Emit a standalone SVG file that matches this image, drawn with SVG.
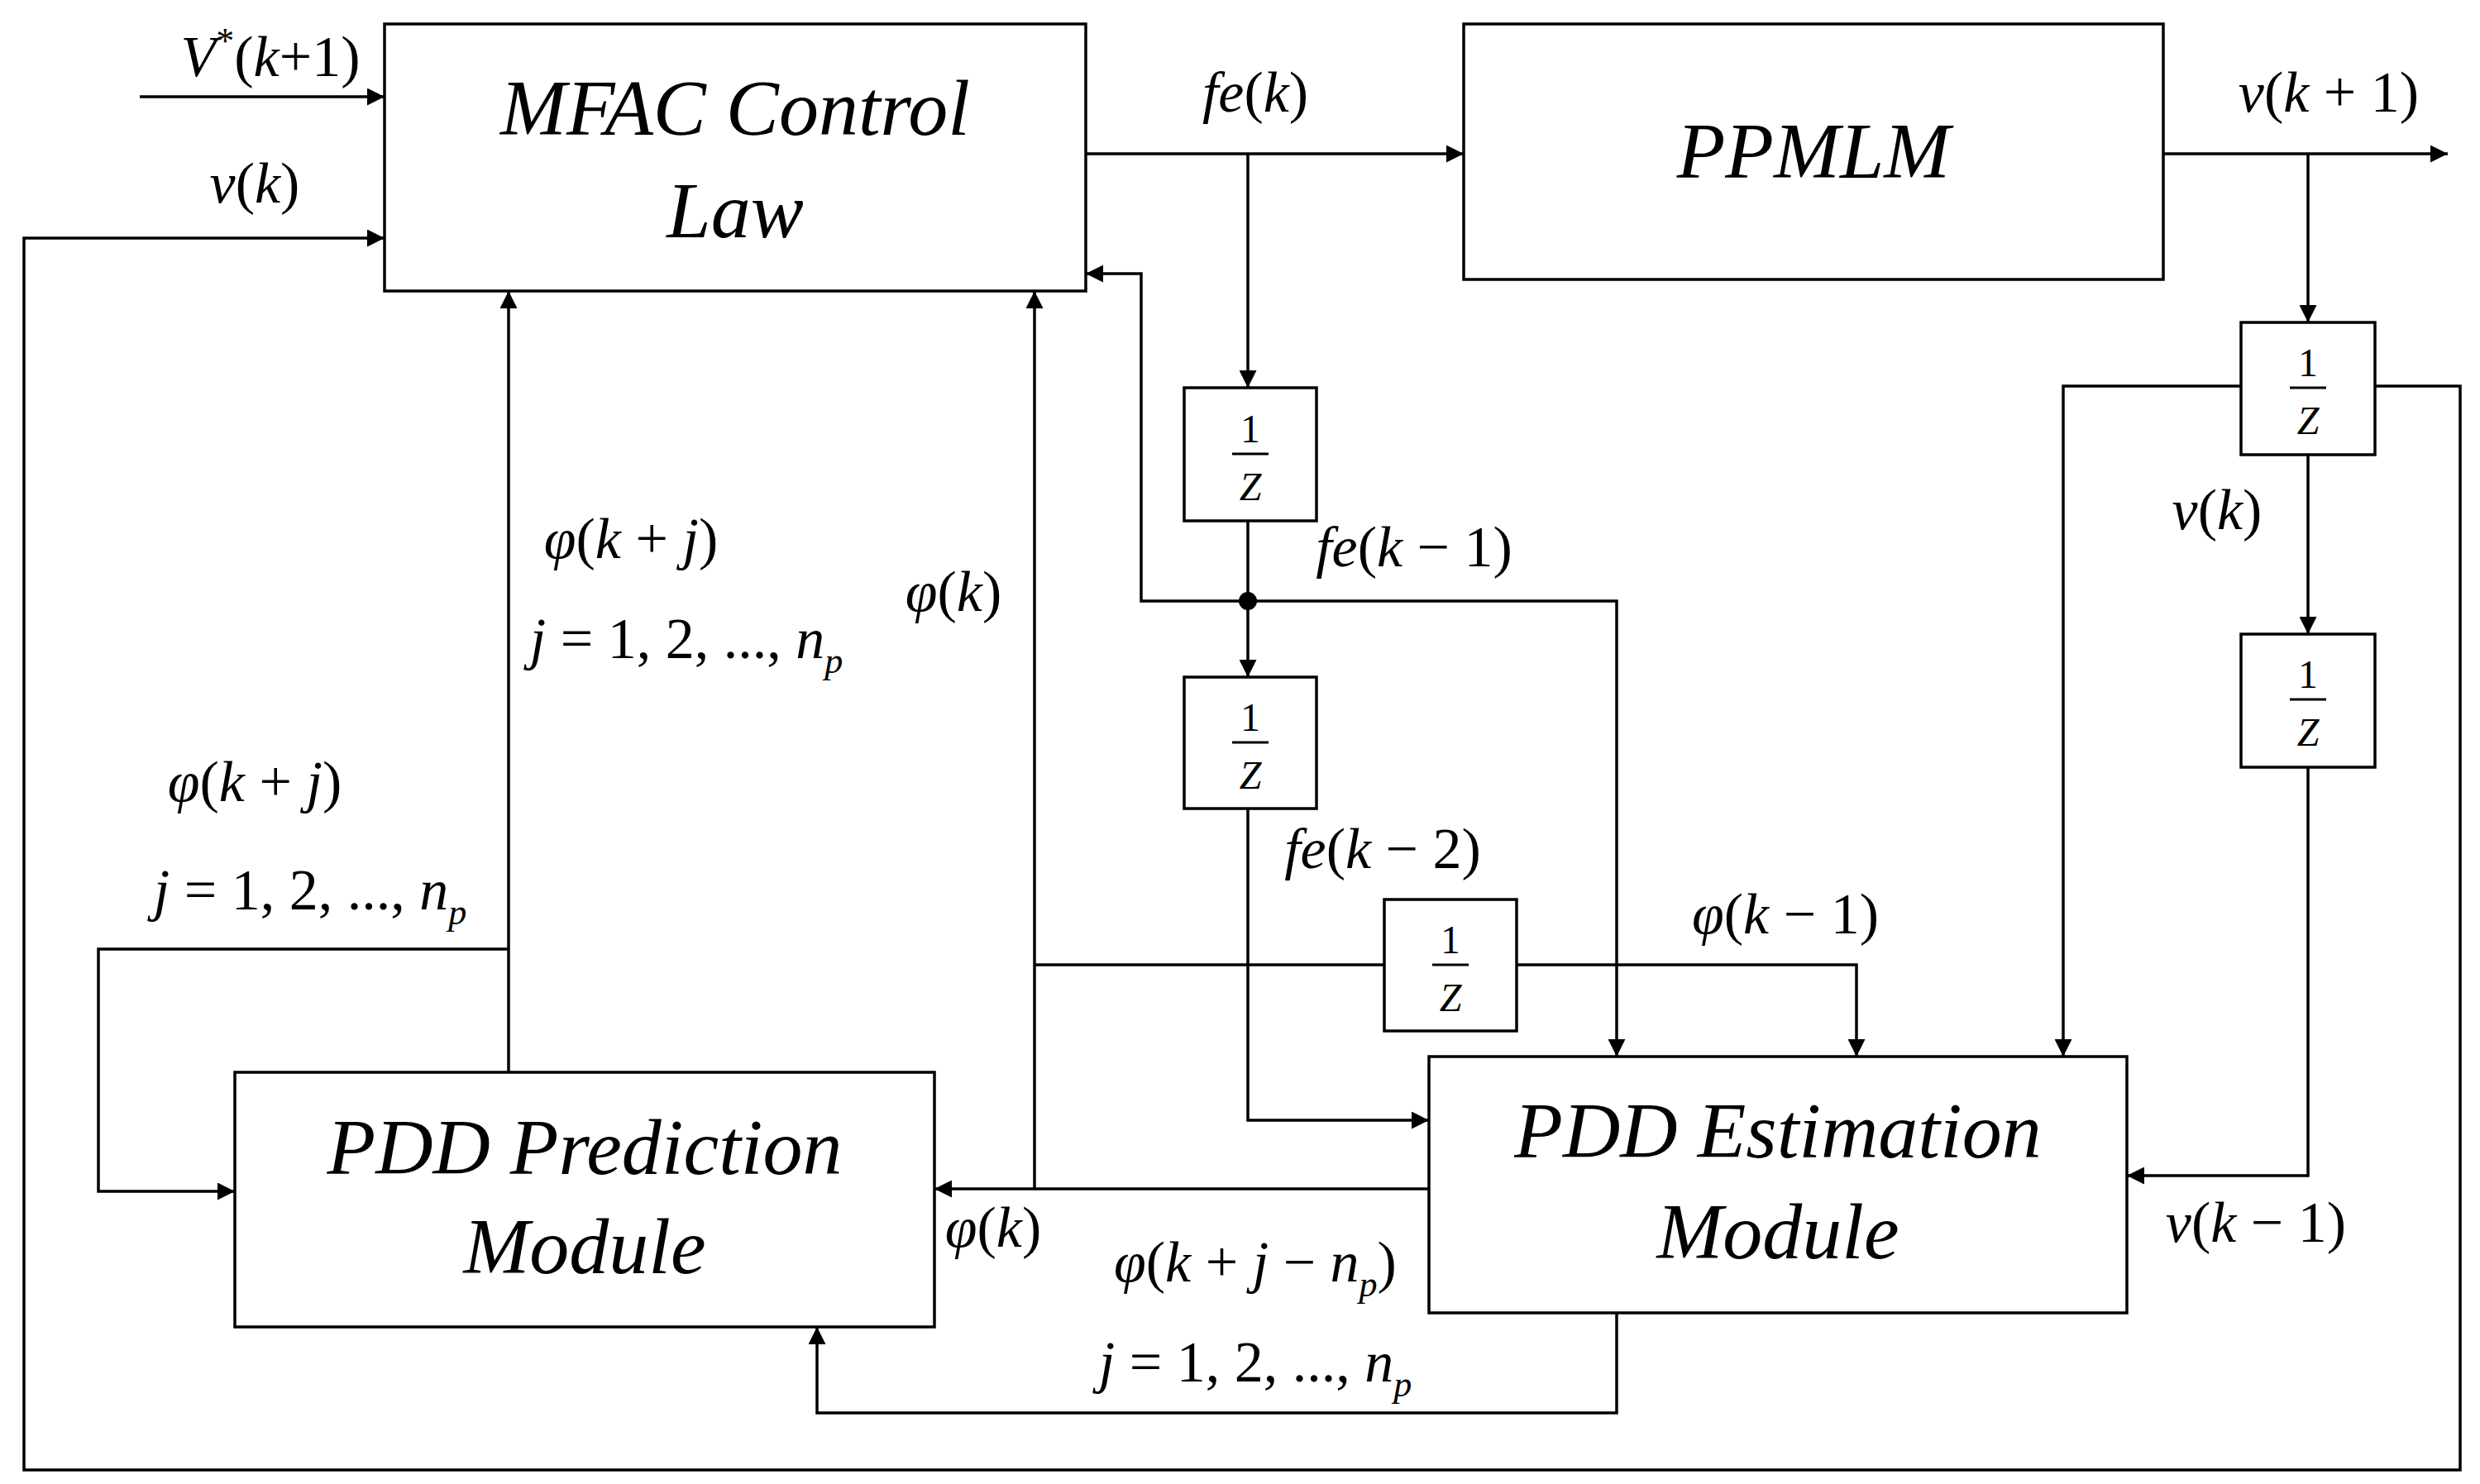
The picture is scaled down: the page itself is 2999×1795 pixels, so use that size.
<svg xmlns="http://www.w3.org/2000/svg" width="2999" height="1795" viewBox="0 0 2999 1795">
<defs>
<marker id="a" viewBox="0 0 10 10" refX="10" refY="5" markerWidth="8" markerHeight="6" markerUnits="strokeWidth" orient="auto"><path d="M0,0 L10,5 L0,10 Z" fill="#000"/></marker>
<style>
.b{fill:#fff;stroke:#000;stroke-width:3.5}
.c{fill:none;stroke:#000;stroke-width:3.5}
.c path{marker-end:url(#a)}
text{font-family:"Liberation Serif",serif;font-style:italic;fill:#000;text-anchor:middle}
.t{font-size:96px}
.l{font-size:70px}
.f{font-size:48px}
.s{font-size:44px}
.u{font-style:normal}
</style>
</defs>
<rect width="2999" height="1795" fill="#fff"/>
<g class="c" id="connectors">
<path d="M169,117 H465"/>
<path d="M2872,467 H2975 V1778 H29 V288 H465"/>
<path d="M1313,186 H1770"/>
<path d="M1509,186 V469"/>
<path d="M1509,630 V819"/>
<path d="M1509,727 H1380 V331 H1313"/>
<path d="M1509,727 H1955 V1278"/>
<path d="M1509,978 V1355 H1728"/>
<path d="M2616,186 H2960"/>
<path d="M2791,186 V390"/>
<path d="M2791,550 V767"/>
<path d="M2791,928 V1422 H2572"/>
<path d="M2710,467 H2495 V1278"/>
<path d="M615,1297 V352"/>
<path d="M615,1148 H119 V1441 H284"/>
<path d="M1728,1438 H1130"/>
<path d="M1251,1438 V352"/>
<path d="M1251,1167 H1674" style="marker-end:none"/>
<path d="M1834,1167 H2245 V1278"/>
<path d="M1955,1588 V1709 H988 V1605"/>
<circle cx="1509" cy="727" r="11" fill="#000" stroke="none"/>
</g>
<g id="mfac"><rect class="b" x="465" y="29" width="848" height="323"/><text class="t" x="889" y="163">MFAC Control</text><text class="t" x="889" y="287">Law</text></g>
<g id="ppmlm"><rect class="b" x="1770" y="29" width="846" height="309"/><text class="t" x="2193" y="215">PPMLM</text></g>
<g id="pred"><rect class="b" x="284" y="1297" width="846" height="308"/><text class="t" x="707" y="1420">PDD Prediction</text><text class="t" x="707" y="1540">Module</text></g>
<g id="est"><rect class="b" x="1728" y="1278" width="844" height="310"/><text class="t" x="2150" y="1400">PDD Estimation</text><text class="t" x="2150" y="1522">Module</text></g>
<g id="z1"><rect class="b" x="1432" y="469" width="160" height="161"/><text class="f u" x="1512" y="535">1</text><line x1="1490" y1="549" x2="1534" y2="549" stroke="#000" stroke-width="3"/><text class="f" x="1512" y="605">Z</text></g>
<g id="z2"><rect class="b" x="1432" y="819" width="160" height="159"/><text class="f u" x="1512" y="884">1</text><line x1="1490" y1="898" x2="1534" y2="898" stroke="#000" stroke-width="3"/><text class="f" x="1512" y="954">Z</text></g>
<g id="z3"><rect class="b" x="1674" y="1088" width="160" height="159"/><text class="f u" x="1754" y="1153">1</text><line x1="1732" y1="1167" x2="1776" y2="1167" stroke="#000" stroke-width="3"/><text class="f" x="1754" y="1223">Z</text></g>
<g id="z4"><rect class="b" x="2710" y="390" width="162" height="160"/><text class="f u" x="2791" y="455">1</text><line x1="2769" y1="469" x2="2813" y2="469" stroke="#000" stroke-width="3"/><text class="f" x="2791" y="525">Z</text></g>
<g id="z5"><rect class="b" x="2710" y="767" width="162" height="161"/><text class="f u" x="2791" y="832">1</text><line x1="2769" y1="846" x2="2813" y2="846" stroke="#000" stroke-width="3"/><text class="f" x="2791" y="902">Z</text></g>
<g id="labels">
<text class="l" x="327" y="92">V<tspan class="s u" dy="-28">*</tspan><tspan class="u" dy="28">(</tspan>k<tspan class="u">+1)</tspan></text>
<text class="l" x="308" y="245">v<tspan class="u">(</tspan>k<tspan class="u">)</tspan></text>
<text class="l" x="1518" y="135">fe<tspan class="u">(</tspan>k<tspan class="u">)</tspan></text>
<text class="l" x="2816" y="135">v<tspan class="u">(</tspan>k<tspan class="u"> + 1)</tspan></text>
<text class="l" x="1710" y="685">fe<tspan class="u">(</tspan>k<tspan class="u"> − 1)</tspan></text>
<text class="l" x="1672" y="1050">fe<tspan class="u">(</tspan>k<tspan class="u"> − 2)</tspan></text>
<text class="l" x="2681" y="640">v<tspan class="u">(</tspan>k<tspan class="u">)</tspan></text>
<text class="l" x="2728" y="1502">v<tspan class="u">(</tspan>k<tspan class="u"> − 1)</tspan></text>
<text class="l" x="763" y="675">φ<tspan class="u">(</tspan>k<tspan class="u"> + </tspan>j<tspan class="u">)</tspan></text>
<text class="l" x="830" y="796">j<tspan class="u"> = 1, 2, ..., </tspan>n<tspan class="s" dy="18">p</tspan></text>
<text class="l" x="308" y="969">φ<tspan class="u">(</tspan>k<tspan class="u"> + </tspan>j<tspan class="u">)</tspan></text>
<text class="l" x="375" y="1100">j<tspan class="u"> = 1, 2, ..., </tspan>n<tspan class="s" dy="18">p</tspan></text>
<text class="l" x="1153" y="739">φ<tspan class="u">(</tspan>k<tspan class="u">)</tspan></text>
<text class="l" x="1201" y="1508">φ<tspan class="u">(</tspan>k<tspan class="u">)</tspan></text>
<text class="l" x="2159" y="1129">φ<tspan class="u">(</tspan>k<tspan class="u"> − 1)</tspan></text>
<text class="l" x="1518" y="1550">φ<tspan class="u">(</tspan>k<tspan class="u"> + </tspan>j<tspan class="u"> − </tspan>n<tspan class="s" dy="18">p</tspan><tspan class="u" dy="-18">)</tspan></text>
<text class="l" x="1518" y="1671">j<tspan class="u"> = 1, 2, ..., </tspan>n<tspan class="s" dy="18">p</tspan></text>
</g>
</svg>
